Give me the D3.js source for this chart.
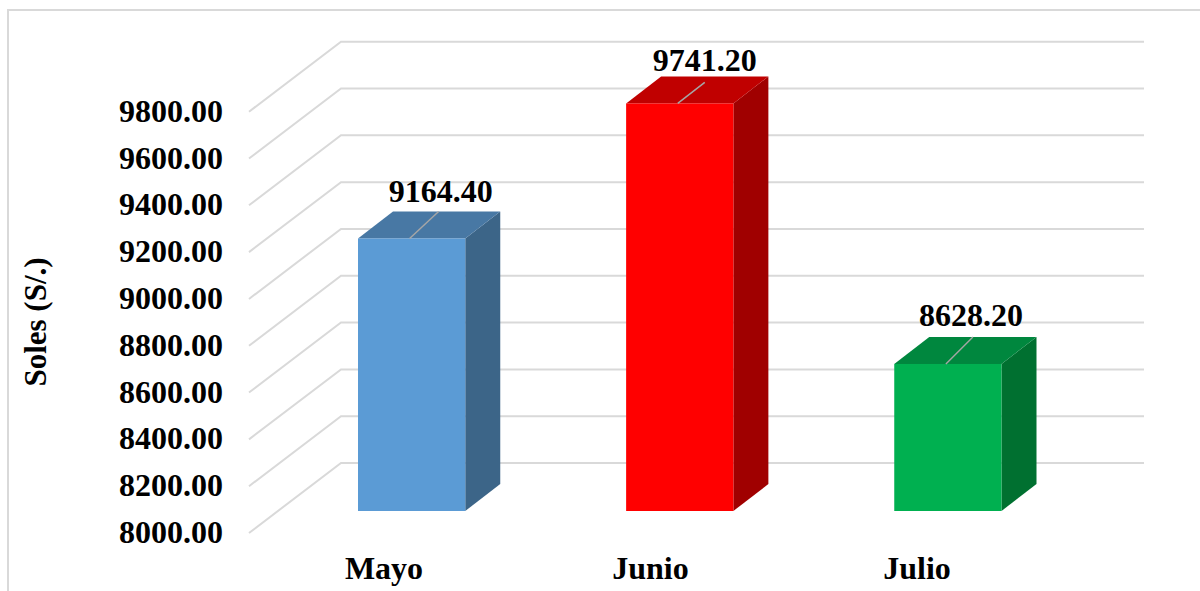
<!DOCTYPE html>
<html><head><meta charset="utf-8">
<script src="https://cdn.jsdelivr.net/npm/d3@7/dist/d3.min.js"></script>
<style>html,body{margin:0;padding:0;background:#fff}svg{display:block}text{font-family:"Liberation Serif",serif;font-weight:bold;fill:#000}</style>
</head><body><svg id="c" width="1200" height="591"></svg>
<script>
const categories = ["Mayo","Junio","Julio"];
const values = [9164.40,9741.20,8628.20];
const frontColors = ["#5b9bd5","#ff0000","#00b050"];
const topColors = ["#4878a4","#c00000","#00873e"];
const sideColors = ["#3c6588","#a00000","#007030"];
const ticks = [8000,8200,8400,8600,8800,9000,9200,9400,9600,9800];
const labelDX = [29,25,23];
const labelDY = [-36,-32,-38];
const leaderDX = [29,27,27];
const leaderDY = [-27,-21,-27];

const svg = d3.select("#c");
const y = d3.scaleLinear().domain([8000,9800]).range([533,111.7]);
const depthX = 92, depthY = 70;
const barDX = 35, barDY = 27, baseShift = 22;
const x = d3.scaleBand().domain(categories).range([358,1001.5]).paddingInner(0.6).paddingOuter(0);
const xLabel = d3.scalePoint().domain(categories).range([384,917]);

// frame
svg.append("path").attr("d","M8,591V10H1200").attr("fill","none").attr("stroke","#d9d9d9").attr("stroke-width",2);

// gridlines
const grid = svg.append("g").attr("fill","none").attr("stroke","#d9d9d9").attr("stroke-width",2);
ticks.forEach(t=>{
  grid.append("path").attr("d",d3.line()([[249,y(t)],[249+depthX,y(t)-depthY],[1144,y(t)-depthY]]));
});

// axis labels
svg.append("g").selectAll("text").data(ticks).join("text")
  .attr("x",223).attr("y",d=>y(d)+10).attr("text-anchor","end").attr("font-size",32)
  .text(d=>d3.format(".2f")(d));

// bars
const by = v => y(v)-baseShift;
const g = svg.append("g");
categories.forEach((c,i)=>{
  const v = values[i], l = x(c), w = x.bandwidth(), r = l+w, t = by(v), b = by(8000);
  g.append("polygon").attr("fill",sideColors[i])
    .attr("points",[[r,t],[r+barDX,t-barDY],[r+barDX,b-barDY],[r,b]].join(" "));
  g.append("polygon").attr("fill",topColors[i])
    .attr("points",[[l,t],[l+barDX,t-barDY],[r+barDX,t-barDY],[r,t]].join(" "));
  g.append("rect").attr("x",l).attr("y",t).attr("width",w).attr("height",b-t).attr("fill",frontColors[i]);
  // leader
  const cx = l+w/2-2;
  g.append("line").attr("x1",cx).attr("y1",t).attr("x2",cx+leaderDX[i]).attr("y2",t+leaderDY[i])
    .attr("stroke","#a6a6a6").attr("stroke-width",1.5);
  g.append("text").attr("x",l+w/2+labelDX[i]).attr("y",t+labelDY[i]).attr("text-anchor","middle").attr("font-size",32)
    .text(d3.format(".2f")(v));
  g.append("text").attr("x",xLabel(c)).attr("y",579).attr("text-anchor","middle").attr("font-size",32).text(c);
});

svg.append("text").attr("transform","translate(46,322) rotate(-90)").attr("text-anchor","middle").attr("font-size",31).text("Soles (S/.)");
</script></body></html>
